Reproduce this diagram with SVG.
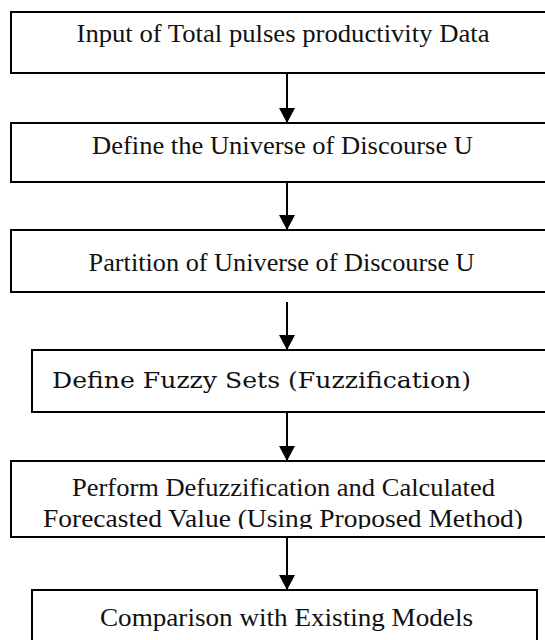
<svg xmlns="http://www.w3.org/2000/svg" width="545" height="640" viewBox="0 0 545 640">
<style>
.box{fill:#fff;stroke:#000;stroke-width:2}
.t{font-family:'Liberation Serif',serif;font-size:25px;fill:#111}
.tb{font-family:'DejaVu Serif',serif;font-size:22px;fill:#111}
.c{stroke:#000;stroke-width:2;fill:none}
</style>
<defs>
<marker id="ah" markerUnits="userSpaceOnUse" markerWidth="16" markerHeight="16" viewBox="0 0 16 16" refX="15" refY="8" orient="auto">
<path d="M0,0 L15,8 L0,16 Z" fill="#000"/>
</marker>
<clipPath id="clip5"><rect x="0" y="461" width="545" height="68"/></clipPath>
</defs>
<rect width="545" height="640" fill="#fff"/>
<g id="connectors">
<line class="c" x1="287" y1="73" x2="287" y2="123" marker-end="url(#ah)"/>
<line class="c" x1="287" y1="182" x2="287" y2="230" marker-end="url(#ah)"/>
<line class="c" x1="287" y1="302" x2="287" y2="350" marker-end="url(#ah)"/>
<line class="c" x1="287" y1="412" x2="287" y2="461" marker-end="url(#ah)"/>
<line class="c" x1="287" y1="537" x2="287" y2="590" marker-end="url(#ah)"/>
</g>
<g id="n1">
<rect class="box" x="11" y="12" width="560" height="61"/>
<text class="t" font-family="Liberation Serif" x="76.5" y="42" textLength="413" lengthAdjust="spacingAndGlyphs">Input of Total pulses productivity Data</text>
</g>
<g id="n2">
<rect class="box" x="11" y="123" width="560" height="59"/>
<text class="t" font-family="Liberation Serif" x="92" y="154" textLength="381" lengthAdjust="spacingAndGlyphs">Define the Universe of Discourse U</text>
</g>
<g id="n3">
<rect class="box" x="11" y="230" width="560" height="62"/>
<text class="t" font-family="Liberation Serif" x="88.6" y="271" textLength="386" lengthAdjust="spacingAndGlyphs">Partition of Universe of Discourse U</text>
</g>
<g id="n4">
<rect class="box" x="32" y="350" width="560" height="62"/>
<text class="tb" font-family="DejaVu Serif" x="52" y="388" textLength="419" lengthAdjust="spacingAndGlyphs">Define Fuzzy Sets (Fuzzification)</text>
</g>
<g id="n5">
<rect class="box" x="11" y="461" width="560" height="76"/>
<g clip-path="url(#clip5)">
<text class="t" font-family="Liberation Serif" x="72" y="496" textLength="423" lengthAdjust="spacingAndGlyphs">Perform Defuzzification and Calculated</text>
<text class="t" font-family="Liberation Serif" x="43" y="527" textLength="480" lengthAdjust="spacingAndGlyphs">Forecasted Value (Using Proposed  Method)</text>
</g>
</g>
<g id="n6">
<rect class="box" x="32" y="590" width="505" height="70"/>
<text class="t" font-family="Liberation Serif" x="100" y="626" textLength="373" lengthAdjust="spacingAndGlyphs">Comparison with Existing Models</text>
</g>
</svg>
